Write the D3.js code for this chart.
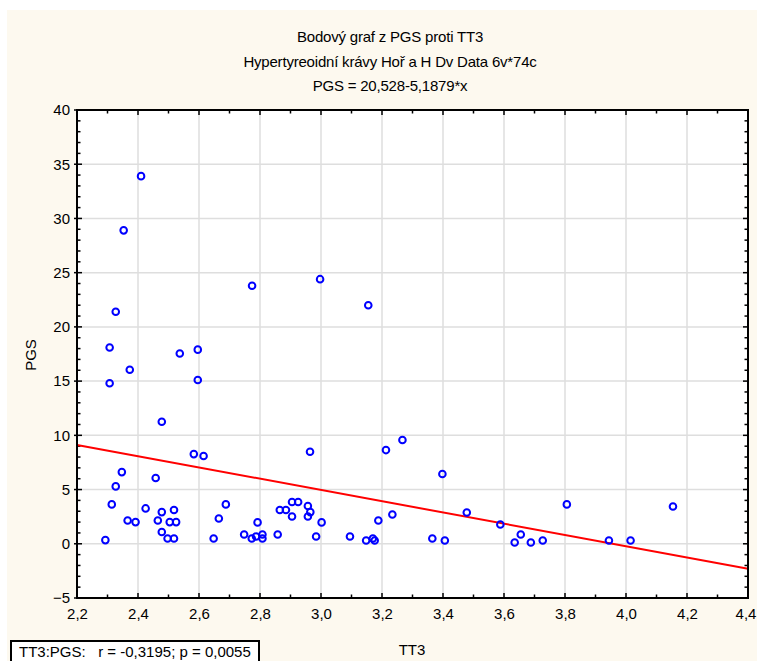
<!DOCTYPE html>
<html><head><meta charset="utf-8">
<script src="https://cdn.jsdelivr.net/npm/d3@7"></script>
<style>body{margin:0;background:#fff}svg{display:block}text{font-family:"Liberation Sans",Arial,sans-serif}</style>
</head><body><svg id="c" width="757" height="661"></svg>
<script>
const titles = ["Bodový graf z PGS proti TT3","Hypertyreoidní krávy Hoř a H Dv Data 6v*74c","PGS = 20,528-5,1879*x"];
const xTicks = [2.2,2.4,2.6,2.8,3.0,3.2,3.4,3.6,3.8,4.0,4.2,4.4];
const yTicks = [-5,0,5,10,15,20,25,30,35,40];
const tt3 = [2.41,2.353,2.327,2.774,2.997,3.155,2.307,2.373,2.307,2.537,2.596,2.596,2.478,2.583,2.615,2.347,2.458,2.327,2.314,2.425,2.478,2.518,2.366,2.392,2.465,2.504,2.525,2.478,2.497,2.518,2.293,2.648,2.665,2.964,2.688,2.748,2.773,2.787,2.808,2.808,2.792,2.858,2.865,2.885,2.905,2.925,2.905,2.957,2.965,2.957,3.002,2.984,3.213,3.267,3.398,3.478,3.234,3.188,3.095,3.148,3.170,3.176,3.365,3.406,3.806,4.154,3.588,3.655,3.635,3.688,3.727,3.944,4.015];
const pgs = [33.9,28.9,21.4,23.8,24.4,22.0,18.1,16.05,14.8,17.55,17.9,15.1,11.25,8.27,8.09,6.61,6.06,5.29,3.63,3.26,2.92,3.11,2.15,2.0,2.15,2.0,2.0,1.08,0.49,0.49,0.34,0.49,2.33,8.49,3.63,0.86,0.49,0.67,0.86,0.49,1.97,0.86,3.11,3.11,3.85,3.85,2.52,3.48,2.92,2.52,1.97,0.67,8.64,9.57,6.43,2.89,2.70,2.15,0.67,0.30,0.49,0.30,0.49,0.30,3.63,3.44,1.78,0.86,0.12,0.12,0.30,0.30,0.30];
const intercept = 20.528, slope = -5.1879;
const legendText = "TT3:PGS:   r = -0,3195; p = 0,0055";
const xTitle = "TT3", yTitle = "PGS";

const svg = d3.select("#c");
const L=77, R=748, T=110, B=598;
svg.append("rect").attr("x",7).attr("y",10).attr("width",750).attr("height",651).attr("fill","#fdf9ef");
svg.append("rect").attr("x",L).attr("y",T).attr("width",R-L).attr("height",B-T).attr("fill","#fff");
const x = d3.scaleLinear().domain([2.2,4.4]).range([L,R]);
const y = d3.scaleLinear().domain([-5,40]).range([B,T]);

// grid
const g = svg.append("g");
g.selectAll(".gx").data(xTicks.slice(1,-1)).join("line").attr("x1",d=>x(d)).attr("x2",d=>x(d)).attr("y1",T).attr("y2",B).attr("stroke","#dedede").attr("stroke-width",1.5);
g.selectAll(".gy").data(yTicks.slice(1,-1)).join("line").attr("y1",d=>y(d)).attr("y2",d=>y(d)).attr("x1",L).attr("x2",R).attr("stroke","#dedede").attr("stroke-width",1.5);

// titles
svg.selectAll(".tt").data(titles).join("text").attr("x",390).attr("y",(d,i)=>42+i*24.5).attr("text-anchor","middle").attr("font-size",15).attr("letter-spacing",-0.2).text(d=>d);

// axes
const fmt = d=>d3.format(".1f")(d).replace(".",",");
const xMinor = d3.range(22,45).map(d=>d/10);
const yMinor = d3.range(-5,41);
const bottom = svg.append("g").attr("transform",`translate(0,${B})`).call(d3.axisBottom(x).tickValues(xTicks).tickFormat(fmt).tickSize(0).tickPadding(10));
bottom.select(".domain").remove();
bottom.selectAll("text").attr("font-size",15).attr("fill","#000").attr("font-family","Liberation Sans, Arial, sans-serif");
bottom.selectAll(".tick").filter(d=>d===4.4).select("text").attr("dx",-2.5);
const left = svg.append("g").attr("transform",`translate(${L},0)`).call(d3.axisLeft(y).tickValues(yTicks).tickFormat(d3.format("d")).tickSize(0).tickPadding(7));
left.select(".domain").remove();
left.selectAll("text").attr("font-size",15).attr("fill","#000").attr("font-family","Liberation Sans, Arial, sans-serif");

const tk = svg.append("g").attr("stroke","#000").attr("stroke-width",1.5);
xMinor.forEach(v=>{
  const major = Math.abs(Math.round(v*10)%2)===0;
  const len = major?5:3.5;
  tk.append("line").attr("x1",x(v)).attr("x2",x(v)).attr("y1",B).attr("y2",B-len);
  tk.append("line").attr("x1",x(v)).attr("x2",x(v)).attr("y1",T).attr("y2",T+len);
});
yMinor.forEach(v=>{
  const major = v%5===0;
  const len = major?5:3.5;
  tk.append("line").attr("y1",y(v)).attr("y2",y(v)).attr("x1",L-(major?3:0)).attr("x2",L+len);
  tk.append("line").attr("y1",y(v)).attr("y2",y(v)).attr("x1",R).attr("x2",R-len);
});

// regression line
svg.append("line").attr("x1",x(2.2)).attr("y1",y(intercept+slope*2.2)).attr("x2",x(4.4)).attr("y2",y(intercept+slope*4.4)).attr("stroke","#ff0000").attr("stroke-width",2);

// points
svg.append("g").selectAll("circle").data(tt3.map((v,i)=>[v,pgs[i]])).join("circle")
  .attr("cx",d=>x(d[0])).attr("cy",d=>y(d[1])).attr("r",3.3).attr("fill","none").attr("stroke","#0000ff").attr("stroke-width",2);

// frame
svg.append("rect").attr("x",L).attr("y",T).attr("width",R-L).attr("height",B-T).attr("fill","none").attr("stroke","#000").attr("stroke-width",2);

// axis titles
svg.append("text").attr("x",412).attr("y",655).attr("text-anchor","middle").attr("font-size",15).text(xTitle);
svg.append("text").attr("transform","translate(36,355) rotate(-90)").attr("text-anchor","middle").attr("font-size",15).text(yTitle);

// legend box
svg.append("rect").attr("x",11).attr("y",641).attr("width",248).attr("height",24).attr("fill","#fff").attr("stroke","#000").attr("stroke-width",2);
svg.append("text").attr("x",19).attr("y",657).attr("font-size",15).attr("xml:space","preserve").style("white-space","pre").text(legendText);
</script></body></html>
